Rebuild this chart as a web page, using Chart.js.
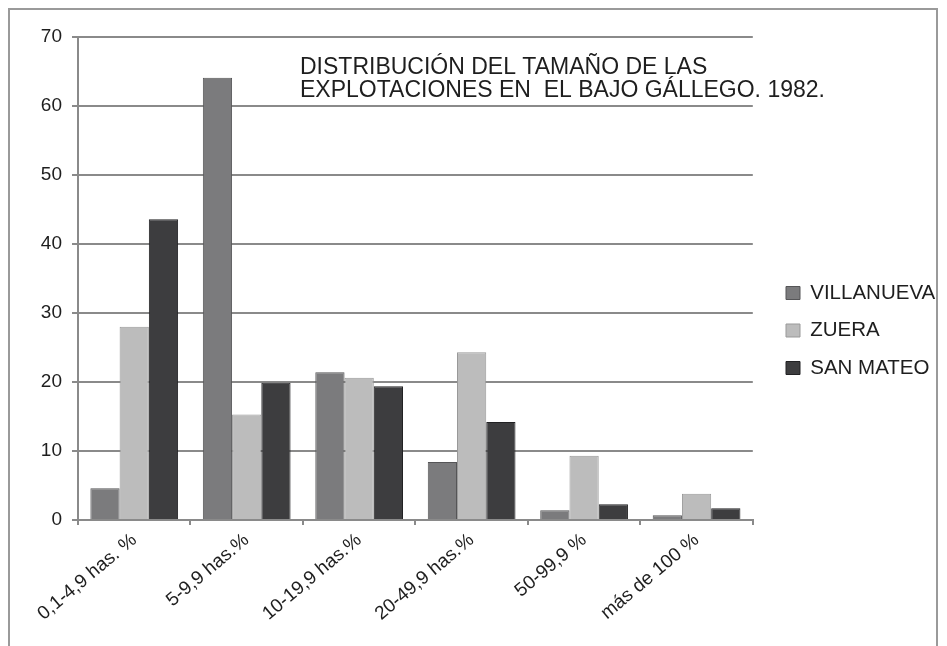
<!DOCTYPE html>
<html lang="es">
<head>
  <meta charset="UTF-8">
  <title>Distribución del tamaño de las explotaciones en el Bajo Gállego. 1982</title>
  <style>
    body {
      margin: 0;
      background: #ffffff;
      font-family: "Liberation Sans", Arial, sans-serif;
    }
    #frame {
      position: absolute;
      left: 8px;
      top: 8px;
      width: 930px;
      height: 700px;
      border: 2px solid #9a9a9a;
      box-sizing: border-box;
    }
    #wrap {
      position: absolute;
      left: 0;
      top: 0;
      width: 947px;
      height: 646px;
    }
  </style>
  <script src="https://cdn.jsdelivr.net/npm/chart.js"></script>
</head>
<body>
  <div id="frame"></div>
  <div id="wrap"><canvas id="chart" width="947" height="646"></canvas></div>

  <script>
    // datos (porcentajes)
    var categorias = ['0,1-4,9 has. %', '5-9,9 has.%', '10-19,9 has.%', '20-49,9 has.%', '50-99,9 %', 'más de 100 %'];
    var villanueva = [4.6, 64.1, 21.4, 8.4, 1.4, 0.7];
    var zuera = [28, 15.3, 20.6, 24.3, 9.3, 3.8];
    var sanMateo = [43.6, 19.9, 19.4, 14.2, 2.3, 1.7];
    var tituloLineas = ['DISTRIBUCIÓN DEL TAMAÑO DE LAS', 'EXPLOTACIONES EN  EL BAJO GÁLLEGO. 1982.'];

    var fuente = '"Liberation Sans", Arial, sans-serif';
    var gris = '#8a8a8a';
    var tamLeyenda = 20.5;

    // mueve la leyenda a su sitio y dibuja el título dentro del área
    var ajustes = {
      id: 'ajustes',
      afterLayout: function (chart) {
        var lg = chart.legend;
        var pad = lg.options.labels.padding;
        var dx = 786 - (lg.left + pad);
        lg.left += dx;
        lg.right += dx;
        var h = lg.bottom - lg.top;
        lg.top = 293 - tamLeyenda / 2 - pad;
        lg.bottom = lg.top + h;
      },
      afterDraw: function (chart) {
        var ctx = chart.ctx;
        ctx.save();
        ctx.fillStyle = '#1e1e1e';
        ctx.font = '23px ' + fuente;
        ctx.textBaseline = 'alphabetic';
        ctx.fillText(tituloLineas[0], 300, 74);
        ctx.fillText(tituloLineas[1], 300, 97);
        ctx.restore();
      }
    };

    var ctx = document.getElementById('chart').getContext('2d');
    var chart = new Chart(ctx, {
      type: 'bar',
      data: {
        labels: categorias,
        datasets: [{
          label: 'VILLANUEVA',
          data: villanueva,
          backgroundColor: '#7b7b7d',
          borderColor: '#555557',
          borderWidth: 1
        }, {
          label: 'ZUERA',
          data: zuera,
          backgroundColor: '#bcbcbc',
          borderColor: '#999999',
          borderWidth: 1
        }, {
          label: 'SAN MATEO',
          data: sanMateo,
          backgroundColor: '#3d3d3f',
          borderColor: '#222224',
          borderWidth: 1
        }]
      },
      options: {
        responsive: false,
        animation: false,
        datasets: {
          bar: {
            barPercentage: 1,
            categoryPercentage: 0.78
          }
        },
        layout: {
          padding: { top: 37, right: 18, bottom: 0, left: 0 }
        },
        plugins: {
          title: { display: false },
          tooltip: { enabled: false },
          legend: {
            position: 'right',
            align: 'start',
            labels: {
              color: '#1e1e1e',
              font: { family: fuente, size: tamLeyenda },
              boxWidth: 14,
              boxHeight: 13,
              padding: 17
            }
          }
        },
        scales: {
          x: {
            grid: {
              offset: true,
              drawOnChartArea: false,
              drawTicks: true,
              tickLength: 5,
              color: gris,
              lineWidth: 2
            },
            border: { color: gris, width: 2 },
            ticks: {
              color: '#1e1e1e',
              font: { family: fuente, size: 19 },
              minRotation: 40,
              maxRotation: 40,
              padding: 4
            },
            afterFit: function (s) { s.height = 126; }
          },
          y: {
            min: 0,
            max: 70,
            ticks: {
              stepSize: 10,
              color: '#1e1e1e',
              font: { family: fuente, size: 19 },
              padding: 10
            },
            grid: {
              color: gris,
              lineWidth: 2,
              tickLength: 6
            },
            border: { color: gris, width: 2 },
            afterFit: function (s) { s.width = 78; }
          }
        }
      },
      plugins: [ajustes]
    });
  </script>
</body>
</html>
